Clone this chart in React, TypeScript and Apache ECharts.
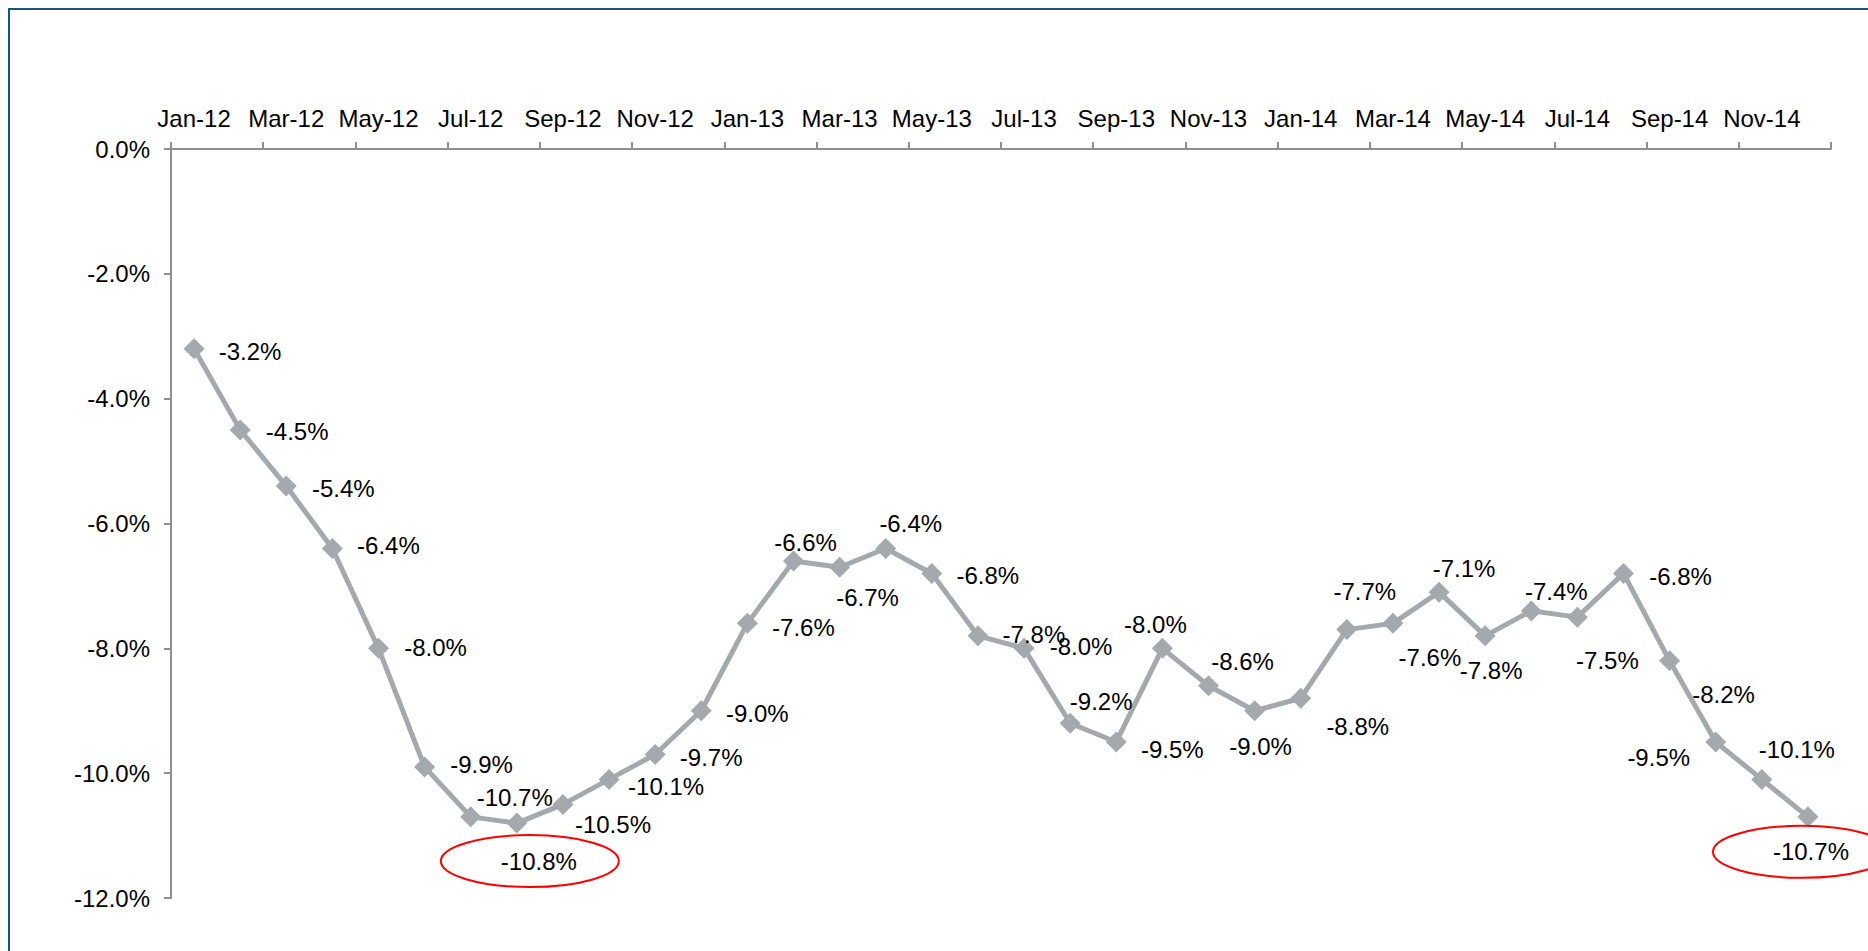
import React, { useEffect, useRef } from "react";
import * as echarts from "echarts";

const months: string[] = [
  "Jan-12", "Feb-12", "Mar-12", "Apr-12", "May-12", "Jun-12",
  "Jul-12", "Aug-12", "Sep-12", "Oct-12", "Nov-12", "Dec-12",
  "Jan-13", "Feb-13", "Mar-13", "Apr-13", "May-13", "Jun-13",
  "Jul-13", "Aug-13", "Sep-13", "Oct-13", "Nov-13", "Dec-13",
  "Jan-14", "Feb-14", "Mar-14", "Apr-14", "May-14", "Jun-14",
  "Jul-14", "Aug-14", "Sep-14", "Oct-14", "Nov-14", "Dec-14",
];

const values: number[] = [
  -3.2, -4.5, -5.4, -6.4, -8.0, -9.9,
  -10.7, -10.8, -10.5, -10.1, -9.7, -9.0,
  -7.6, -6.6, -6.7, -6.4, -6.8, -7.8,
  -8.0, -9.2, -9.5, -8.0, -8.6, -9.0,
  -8.8, -7.7, -7.6, -7.1, -7.8, -7.4,
  -7.5, -6.8, -8.2, -9.5, -10.1, -10.7,
];

const yMin = -12;
const yMax = 0;
const yStep = 2;

// months whose data label is circled in red
const circled: string[] = ["Aug-12", "Dec-14"];

// label centre offset from its point (layout only)
const labelOffsets: [number, number][] = [
  [56, 3], [57, 2], [57, 2], [56, -3], [57, -1], [57, -2],
  [44, -19], [22, 38], [50, 20], [57, 7], [56, 3], [56, 3],
  [56, 4], [12, -18], [28, 30], [25, -25], [56, 2], [56, -1],
  [57, -2], [31, -22], [56, 8], [-7, -24], [34, -24], [6, 36],
  [57, 28], [18, -38], [37, 34], [25, -24], [6, 35], [25, -19],
  [30, 43], [57, 3], [54, 34], [-57, 16], [35, -30], [3, 35],
];

const FONT = "'Liberation Sans', Arial, Helvetica, sans-serif";
const AXIS_COLOR = "#8f8f8f";
const LINE_COLOR = "#a4a9ae";

export default function App() {
  const ref = useRef<HTMLDivElement>(null);

  useEffect(() => {
    if (!ref.current) return;
    const chart = echarts.init(ref.current, undefined, { renderer: "svg" });

    const border = {
      id: "frame",
      type: "rect",
      silent: true,
      shape: { x: 9, y: 9, width: 4000, height: 4000 },
      style: { fill: "none", stroke: "#17557a", lineWidth: 2 },
      z: 100,
    };

    const option: any = {
      animation: false,
      backgroundColor: "#ffffff",
      grid: { left: 171, right: 37, top: 149, bottom: 53, containLabel: false },
      xAxis: {
        type: "category",
        position: "top",
        data: months,
        boundaryGap: true,
        axisLine: { show: true, lineStyle: { color: AXIS_COLOR, width: 2 } },
        axisTick: {
          show: true,
          inside: false,
          length: 7,
          interval: 1,
          alignWithLabel: false,
          lineStyle: { color: AXIS_COLOR, width: 2 },
        },
        axisLabel: {
          interval: 1,
          color: "#000",
          fontSize: 24,
          fontFamily: FONT,
          margin: 19,
        },
        splitLine: { show: false },
      },
      yAxis: {
        type: "value",
        min: yMin,
        max: yMax,
        interval: yStep,
        axisLine: { show: true, lineStyle: { color: AXIS_COLOR, width: 2 } },
        axisTick: { show: true, inside: false, length: 7, lineStyle: { color: AXIS_COLOR, width: 2 } },
        axisLabel: {
          color: "#000",
          fontSize: 24,
          fontFamily: FONT,
          margin: 21,
          formatter: (v: number) => v.toFixed(1) + "%",
        },
        splitLine: { show: false },
      },
      series: [
        {
          type: "line",
          data: values.map((v, i) => ({
            value: v,
            label: { offset: labelOffsets[i] },
          })),
          symbol: "diamond",
          symbolSize: 21,
          showAllSymbol: true,
          lineStyle: { color: LINE_COLOR, width: 5 },
          itemStyle: { color: LINE_COLOR },
          label: {
            show: true,
            position: "inside",
            align: "center",
            verticalAlign: "middle",
            color: "#000",
            fontSize: 24,
            fontFamily: FONT,
            formatter: (p: any) => Number(p.value).toFixed(1) + "%",
          },
          emphasis: { disabled: true },
        },
      ],
      graphic: [border],
    };

    chart.setOption(option);

    const ellipses = circled.map((m, k) => {
      const i = months.indexOf(m);
      const pt = chart.convertToPixel({ seriesIndex: 0 }, [i, values[i]]) as number[];
      const off = labelOffsets[i];
      return {
        id: "ring" + k,
        type: "ellipse",
        silent: true,
        shape: { cx: pt[0] + off[0] - 9, cy: pt[1] + off[1], rx: 89, ry: 26 },
        style: { fill: "none", stroke: "#ff0000", lineWidth: 2 },
        z: 50,
      };
    });

    chart.setOption({ graphic: [border, ...ellipses] });

    return () => chart.dispose();
  }, []);

  return (
    <div
      ref={ref}
      style={{ position: "fixed", left: 0, top: 0, width: 1868, height: 951 }}
    />
  );
}
